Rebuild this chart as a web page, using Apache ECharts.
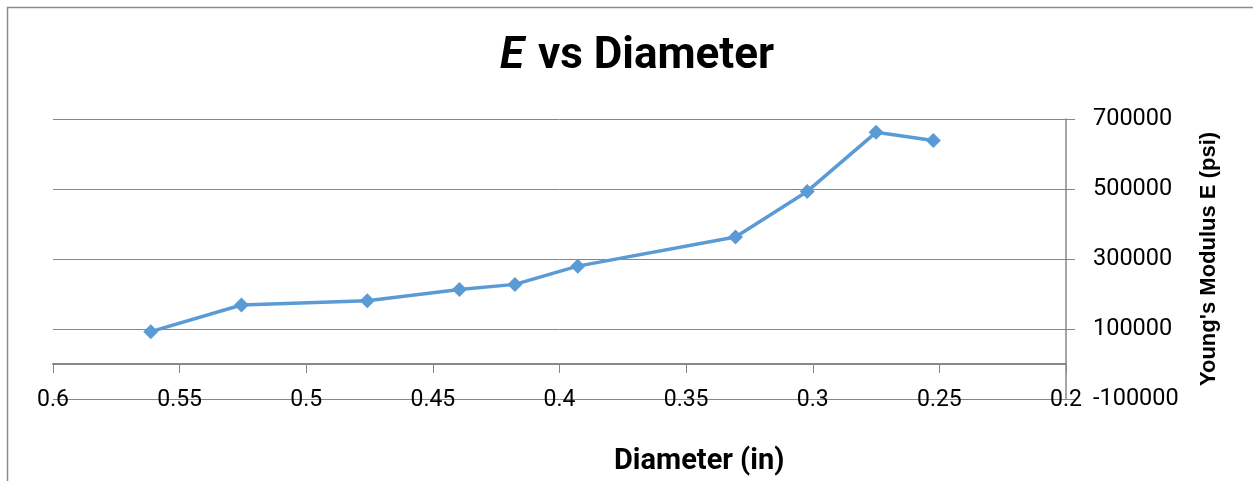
<!DOCTYPE html>
<html>
<head>
<meta charset="utf-8">
<script src="https://cdn.jsdelivr.net/npm/echarts@6/dist/echarts.min.js"></script>
<style>
html,body{margin:0;padding:0;background:#fff;}
#c{width:1253px;height:481px;}
</style>
</head>
<body>
<div id="c"></div>
<script>
const diameters = [0.5614, 0.5256, 0.4759, 0.4395, 0.4176, 0.3928, 0.3305, 0.3022, 0.2750, 0.2524];
const modulus = [92500, 168500, 180800, 212700, 227500, 279600, 363000, 493100, 661900, 638300];
const titleMain = 'vs Diameter';
const xName = 'Diameter (in)';
const yName = "Young's Modulus E (psi)";

const points = diameters.map((d, i) => [d, modulus[i]]);
const chart = echarts.init(document.getElementById('c'));
const grey = '#878787';
chart.setOption({
  animation: false,
  backgroundColor: '#fff',
  title: {
    text: '{e|E}{b|' + titleMain + '}',
    left: 632, top: 30, textAlign: 'center',
    textStyle: {
      rich: {
        e: {fontFamily: 'Roboto', fontWeight: 'bold', fontStyle: 'italic', fontSize: 44, color: '#000', padding: [0, 14, 0, 0]},
        b: {fontFamily: 'Roboto', fontWeight: 'bold', fontSize: 44, color: '#000'}
      }
    }
  },
  graphic: [{
    type: 'rect', silent: true,
    shape: {x: 7.5, y: 7.5, width: 1300, height: 500},
    style: {fill: 'none', stroke: '#8c8c8c', lineWidth: 1.5}
  }, {
    type: 'text', left: 614, top: 447,
    style: {text: xName, x: 0, y: 0, font: 'bold 29px Roboto', fill: '#000'}
  }],
  grid: {left: 53, right: 187, top: 119, bottom: 82},
  xAxis: {
    type: 'value', min: 0.2, max: 0.6, interval: 0.05, inverse: true,
    axisLine: {show: true, onZero: true, lineStyle: {color: grey, width: 2}},
    axisTick: {show: true, length: 9, lineStyle: {color: grey, width: 1}},
    axisLabel: {margin: 1, verticalAlign: 'middle', color: '#000', fontFamily: 'Roboto', fontSize: 23},
    splitLine: {show: false}
  },
  yAxis: {
    type: 'value', position: 'right', min: -100000, max: 700000, interval: 200000,
    name: yName, nameLocation: 'middle', nameGap: 132, nameRotate: 90,
    nameTextStyle: {fontFamily: 'Liberation Sans', fontWeight: 'bold', fontSize: 22, color: '#000'},
    axisLine: {show: true, onZero: false, lineStyle: {color: grey, width: 1.5}},
    axisTick: {show: true, length: 9, lineStyle: {color: grey, width: 1}},
    axisLabel: {margin: 27, color: '#000', fontFamily: 'Roboto', fontSize: 23.5, formatter: v => String(v)},
    splitLine: {show: true, lineStyle: {color: grey, width: 1}}
  },
  series: [{
    type: 'line', data: points,
    symbol: 'diamond', symbolSize: 15,
    lineStyle: {color: '#5b9bd5', width: 3.5},
    itemStyle: {color: '#5b9bd5'}
  }]
});
</script>
</body>
</html>
